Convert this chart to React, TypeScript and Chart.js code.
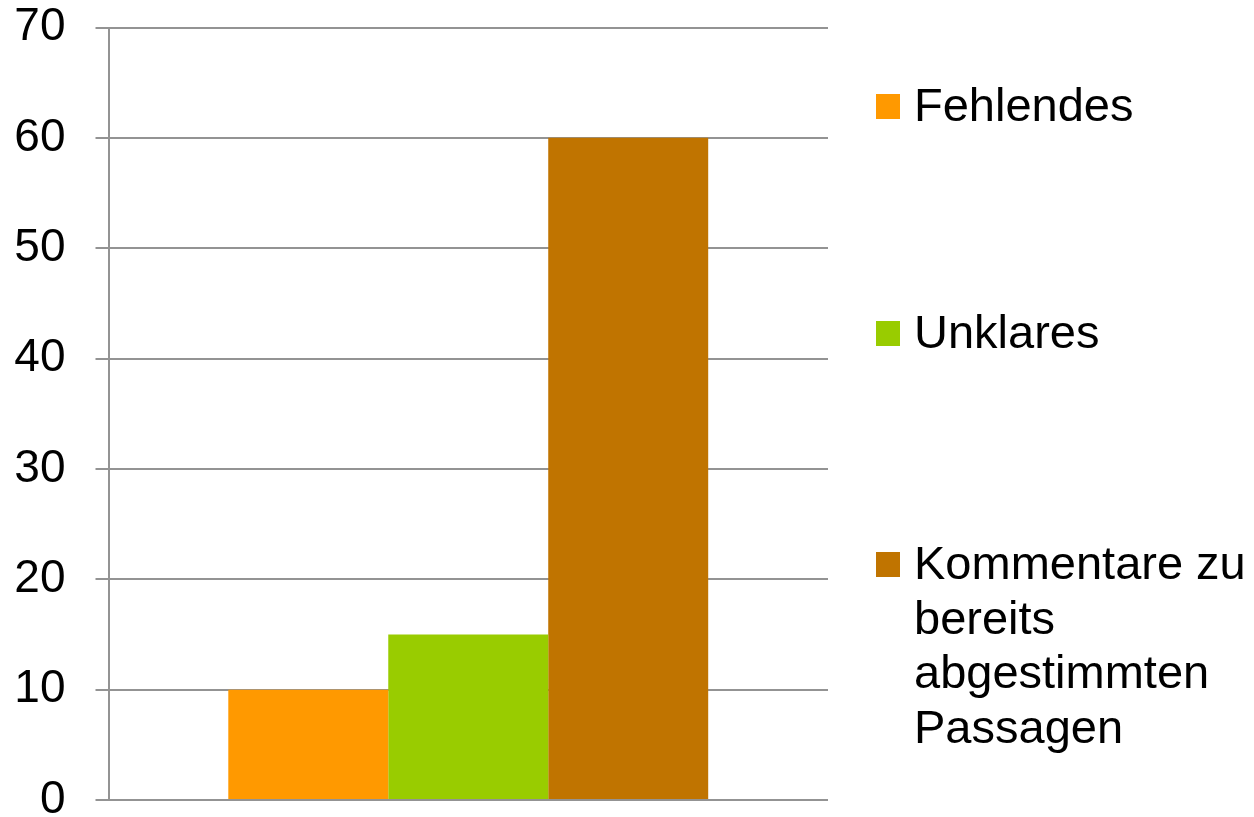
import React, { useEffect, useRef } from "react";
import { Chart, registerables } from "chart.js";

Chart.register(...registerables);

const categories: string[] = [""];
const seriesLabels: string[] = [
  "Fehlendes",
  "Unklares",
  "Kommentare zu bereits abgestimmten Passagen",
];
const fehlendes: number[] = [10];
const unklares: number[] = [15];
const kommentare: number[] = [60];
const seriesColors: string[] = ["#FF9900", "#99CC00", "#C07400"];
const yTicks: number[] = [0, 10, 20, 30, 40, 50, 60, 70];

const FONT = '"Liberation Sans", Arial, sans-serif';

const sideLegend = {
  id: "sideLegend",
  afterDraw(chart: any) {
    const ctx = chart.ctx as CanvasRenderingContext2D;
    const firstBaselines = [121, 348, 579];
    const lineHeight = 54.5;
    const boxX = 876;
    const textX = 914;
    const maxWidth = 1254 - textX - 4;
    ctx.save();
    ctx.font = `47px ${FONT}`;
    ctx.textBaseline = "alphabetic";
    ctx.textAlign = "left";
    chart.data.datasets.forEach((ds: any, i: number) => {
      const base = firstBaselines[i];
      ctx.fillStyle = ds.backgroundColor;
      ctx.fillRect(boxX, base - 27, 24, 25);
      const words = String(ds.label).split(" ");
      const lines: string[] = [];
      let cur = "";
      words.forEach((w) => {
        const test = cur ? cur + " " + w : w;
        if (cur && ctx.measureText(test).width > maxWidth) {
          lines.push(cur);
          cur = w;
        } else {
          cur = test;
        }
      });
      if (cur) lines.push(cur);
      ctx.fillStyle = "#000000";
      lines.forEach((ln, j) => {
        ctx.fillText(ln, textX, base + j * lineHeight);
      });
    });
    ctx.restore();
  },
};

export default function App() {
  const canvasRef = useRef<HTMLCanvasElement | null>(null);

  useEffect(() => {
    if (!canvasRef.current) return;
    const values = [fehlendes, unklares, kommentare];
    const chart = new Chart(canvasRef.current, {
      type: "bar",
      data: {
        labels: categories,
        datasets: seriesLabels.map((label, i) => ({
          label,
          data: values[i],
          backgroundColor: seriesColors[i],
          borderWidth: 0,
          categoryPercentage: 0.667,
          barPercentage: 1,
        })),
      },
      options: {
        responsive: false,
        animation: false,
        events: [],
        layout: {
          padding: { left: 0, top: 27.5, right: 426, bottom: 17 },
        },
        plugins: {
          legend: { display: false },
          tooltip: { enabled: false },
          title: { display: false },
        },
        scales: {
          x: {
            display: false,
          },
          y: {
            min: 0,
            max: 70,
            afterBuildTicks: (scale: any) => {
              scale.ticks = yTicks.map((v) => ({ value: v }));
            },
            afterFit: (scale: any) => {
              scale.width = 108.5;
              scale.paddingTop = 0;
              scale.paddingBottom = 0;
            },
            ticks: {
              color: "#000000",
              padding: 30,
              font: { family: FONT, size: 46 },
            },
            grid: {
              color: "#939393",
              lineWidth: 2,
              drawTicks: true,
              tickLength: 13,
              tickColor: "#939393",
              tickWidth: 2,
            },
            border: {
              display: true,
              color: "#939393",
              width: 2,
            },
          },
        },
      },
      plugins: [sideLegend],
    });
    return () => chart.destroy();
  }, []);

  return (
    <div style={{ position: "fixed", left: 0, top: 0, width: 1254, height: 817, background: "#ffffff" }}>
      <canvas ref={canvasRef} width={1254} height={817} style={{ display: "block" }} />
    </div>
  );
}
